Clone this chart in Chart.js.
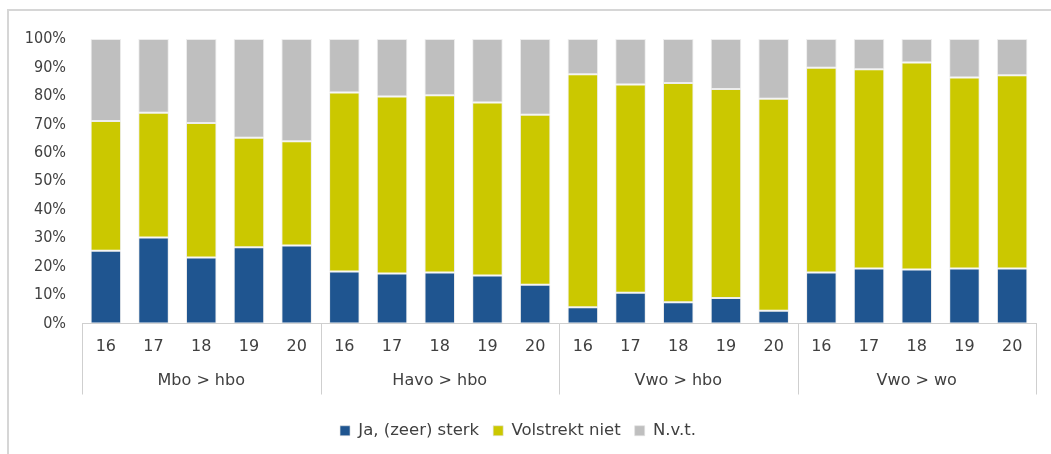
<!DOCTYPE html>
<html>
<head>
<meta charset="utf-8">
<script src="https://cdn.jsdelivr.net/npm/chart.js@4"></script>
<style>
  html, body { margin: 0; padding: 0; background: #fff; overflow: hidden; }
  #wrap { position: relative; width: 1051px; height: 454px; overflow: hidden; }
  #frame { position: absolute; left: 7px; top: 9px; width: 1200px; height: 600px;
           border-top: 2px solid #d6d6d6; border-left: 2px solid #d6d6d6; pointer-events: none; }
</style>
</head>
<body>
<div id="wrap">
  <canvas id="chart" width="1051" height="454"></canvas>
  <div id="frame"></div>
</div>
<script>
const years = ['16', '17', '18', '19', '20'];
const groups = ['Mbo > hbo', 'Havo > hbo', 'Vwo > hbo', 'Vwo > wo'];
const yTicks = [0, 10, 20, 30, 40, 50, 60, 70, 80, 90, 100];

// percentages per bar, 5 years per group
const jaSterk = [25.6, 30.2, 23.2, 26.8, 27.4, 18.3, 17.6, 17.9, 16.9, 13.6, 5.7, 10.8, 7.5, 9.0, 4.5, 17.9, 19.3, 19.0, 19.3, 19.3];
const volstrektNiet = [45.6, 43.9, 47.3, 38.5, 36.7, 62.9, 62.2, 62.3, 60.8, 59.8, 81.9, 73.2, 77.0, 73.4, 74.5, 72.0, 70.1, 72.7, 67.2, 68.0];
const nvt = [28.8, 25.9, 29.5, 34.7, 35.9, 18.8, 20.2, 19.8, 22.3, 26.6, 12.4, 16.0, 15.5, 17.6, 21.0, 10.1, 10.6, 8.3, 13.5, 12.7];

const labels = [];
groups.forEach(() => years.forEach(y => labels.push(y)));

const textColor = '#404040';
const lineColor = '#cfcfcf';

const ctx = document.getElementById('chart').getContext('2d');

// separator lines between the groups in the axis area
const separators = {
    id: 'separators',
    afterDraw(chart) {
        const x = chart.scales.x;
        const x2 = chart.scales.x2;
        const w = (x.right - x.left) / labels.length;
        const c = chart.ctx;
        c.save();
        c.strokeStyle = lineColor;
        c.lineWidth = 1;
        for (let i = 0; i <= labels.length; i += years.length) {
            const px = Math.round(x.left + i * w) + 0.5;
            c.beginPath();
            c.moveTo(px, x.top);
            c.lineTo(px, x2.top + 38);
            c.stroke();
        }
        c.restore();
    }
};

const bar = (label, data, color) => ({
    label: label,
    data: data,
    backgroundColor: color,
    borderColor: 'rgba(225,225,225,0.6)',
    borderWidth: 1,
    borderSkipped: false,
    barPercentage: 0.64,
    categoryPercentage: 1
});

new Chart(ctx, {
    type: 'bar',
    data: {
        labels: labels,
        datasets: [
            bar('Ja, (zeer) sterk', jaSterk, '#1f5590'),
            bar('Volstrekt niet', volstrektNiet, '#cbc800'),
            bar('N.v.t.', nvt, '#bfbfbf')
        ]
    },
    options: {
        responsive: false,
        animation: false,
        layout: { padding: { top: 39, right: 15, bottom: 5, left: 0 } },
        plugins: {
            tooltip: { enabled: false },
            legend: {
                position: 'bottom',
                labels: {
                    boxWidth: 10,
                    boxHeight: 10,
                    padding: 14,
                    color: textColor,
                    font: { family: 'DejaVu Sans', size: 16.5 }
                }
            }
        },
        scales: {
            x: {
                stacked: true,
                grid: { display: false, drawTicks: false },
                border: { display: true, color: lineColor, width: 1 },
                ticks: {
                    color: textColor,
                    padding: 14,
                    maxRotation: 0,
                    autoSkip: false,
                    font: { family: 'DejaVu Sans', size: 16 }
                },
                afterFit: s => { s.height = 33; }
            },
            x2: {
                type: 'category',
                position: 'bottom',
                labels: groups,
                offset: true,
                grid: { display: false, drawTicks: false },
                border: { display: false },
                ticks: {
                    color: textColor,
                    padding: 15,
                    maxRotation: 0,
                    font: { family: 'DejaVu Sans', size: 16 }
                },
                afterFit: s => { s.height = 52; }
            },
            y: {
                stacked: true,
                min: 0,
                max: 100,
                grid: { display: false, drawTicks: false },
                border: { display: false },
                afterBuildTicks: s => { s.ticks = yTicks.map(v => ({ value: v })); },
                ticks: {
                    color: textColor,
                    padding: 16,
                    font: { family: 'DejaVu Sans Condensed', size: 16 },
                    callback: v => v + '%'
                },
                afterFit: s => { s.width = 82; }
            }
        }
    },
    plugins: [separators]
});
</script>
</body>
</html>
